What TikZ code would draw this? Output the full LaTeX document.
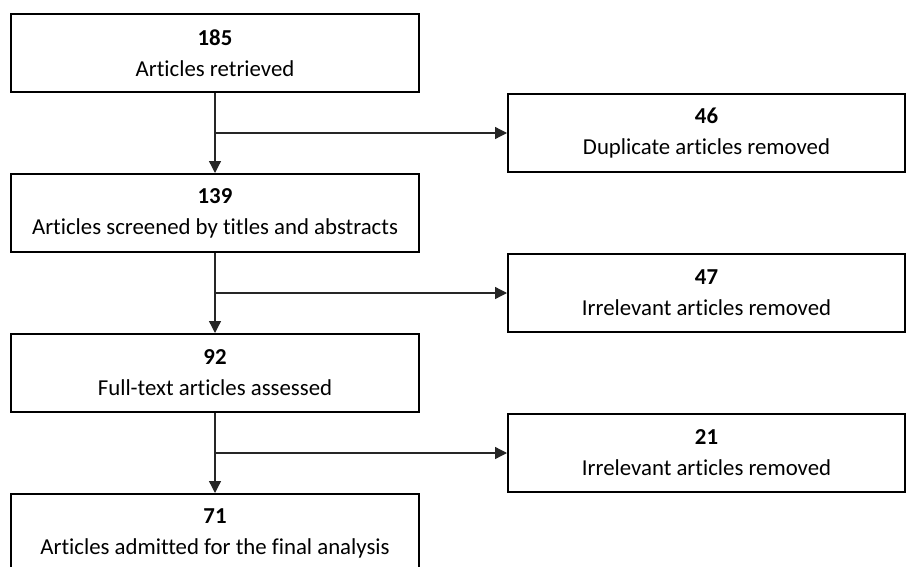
\documentclass[tikz,border=0pt]{standalone}
\usepackage{fontspec}
\setmainfont{Carlito}[Ligatures=NoCommon]
\usetikzlibrary{arrows.meta, positioning}
\tikzset{
  every picture/.style={line width=1.4pt},
  box/.style={draw=black, line width=2pt, align=center, minimum width=#1, minimum height=78pt, inner sep=0pt, font=\fontsize{22.8}{31}\selectfont},
  box/.default=408pt,
  arrow/.style={-{Triangle[length=12pt, width=12pt]}, draw=black!85, line width=1.3pt},
}

\begin{document}
\begin{tikzpicture}[x=1pt, y=-1pt]
  \useasboundingbox (0, 0) rectangle (907, 567);
  % main column
  \node[box] (retr) at (215, 53) {\textbf{185}\\Articles retrieved};
  \node[box] (scrn) at (215, 213) {\textbf{139}\\Articles screened by titles and abstracts};
  \node[box] (full) at (215, 373) {\textbf{92}\\Full-text articles assessed};
  \node[box] (admt) at (215, 533) {\textbf{71}\\Articles admitted for the final analysis};
  % removed
  \node[box=397pt] (dupl) at (706.5, 133) {\textbf{46}\\Duplicate articles removed};
  \node[box=397pt] (irr1) at (706.5, 293) {\textbf{47}\\Irrelevant articles removed};
  \node[box=397pt] (irr2) at (706.5, 453) {\textbf{21}\\Irrelevant articles removed};
  \draw[arrow] (retr) -- (scrn);
  \draw[arrow] (scrn) -- (full);
  \draw[arrow] (full) -- (admt);
  \draw[arrow] (dupl.west -| retr.south) -- (dupl.west);
  \draw[arrow] (irr1.west -| scrn.south) -- (irr1.west);
  \draw[arrow] (irr2.west -| full.south) -- (irr2.west);
\end{tikzpicture}
\end{document}
